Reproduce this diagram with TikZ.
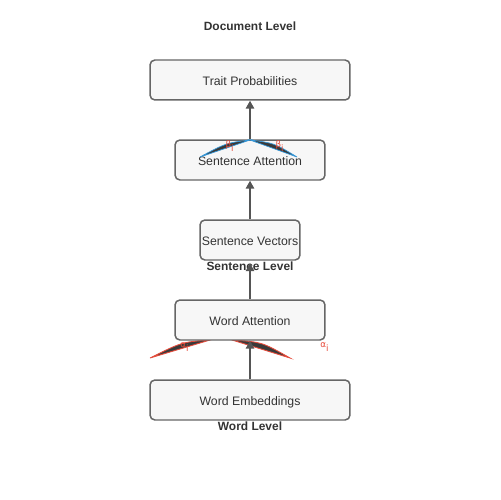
\documentclass[tikz,border=0pt]{standalone}
\usepackage{fontspec}
\setmainfont{Liberation Sans}
\newfontfamily\symfont{DejaVu Sans}
\usetikzlibrary{arrows.meta}
\definecolor{boxfill}{HTML}{F7F7F7}
\definecolor{boxline}{HTML}{666666}
\definecolor{arrowc}{HTML}{555555}
\definecolor{txt}{HTML}{333333}
\definecolor{attred}{HTML}{E74C3C}
\definecolor{attblue}{HTML}{3498DB}
\definecolor{wedge}{HTML}{3A3A3A}
\begin{document}
\begin{tikzpicture}[x=0.02cm,y=-0.02cm,
  box/.style={draw=boxline,fill=boxfill,line width=0.85pt,rounded corners=2.8pt,minimum height=0.8cm,inner sep=0pt,text height=7pt,text depth=0.8pt,font=\fontsize{7pt}{8pt}\selectfont,text=txt},
  lvl/.style={font=\fontsize{6.8pt}{8pt}\selectfont\bfseries,text=txt,inner sep=0pt},
  conn/.style={draw=arrowc,line width=0.85pt,-{Triangle[length=4.5pt,width=4.8pt]}},
  lab/.style={font=\symfont\fontsize{5pt}{6pt}\selectfont,inner sep=0pt},
]
\useasboundingbox (0,0) rectangle (500,500);
% attention wedges (drawn first, under boxes)
\filldraw[fill=wedge,draw=attred,line width=0.5pt] (150,358) .. controls (182,342) .. (210,340) -- cycle;
\filldraw[fill=wedge,draw=attred,line width=0.5pt] (232,340) .. controls (262,342) .. (290,358) -- cycle;

\node[box,minimum width=4cm] (tp) at (250,80) {Trait Probabilities};
\node[box,minimum width=3cm] (sa) at (250,160) {Sentence Attention};
\node[box,minimum width=2cm] (sv) at (250,240) {Sentence Vectors};
\node[box,minimum width=3cm] (wa) at (250,320) {Word Attention};
\node[box,minimum width=4cm] (we) at (250,400) {Word Embeddings};

\filldraw[fill=wedge,draw=attblue,line width=0.4pt] (200,157) .. controls (226,143) .. (250,140) -- cycle;
\filldraw[fill=wedge,draw=attblue,line width=0.4pt] (250,140) .. controls (274,143) .. (297,157) -- cycle;

\node[lvl] (dl) at (250,26) {Document Level};
\node[lvl] (sl) at (250,266) {Sentence Level};
\node[lvl] (wl) at (250,426) {Word Level};

\draw[conn] (we.north) -- (wa.south);
\draw[conn] (wa.north) -- ([yshift=-0.05cm]sv.south);
\draw[conn] (sv.north) -- (sa.south);
\draw[conn] (sa.north) -- (tp.south);

\node[lab,text=attred] (b1) at (230,146) {β\textsubscript{i}};
\node[lab,text=attred] (b2) at (280,146) {β\textsubscript{i}};
\node[lab,text=attred] (a1) at (185,347) {α\textsubscript{i}};
\node[lab,text=attred] (a2) at (325,347) {α\textsubscript{i}};
\end{tikzpicture}
\end{document}
